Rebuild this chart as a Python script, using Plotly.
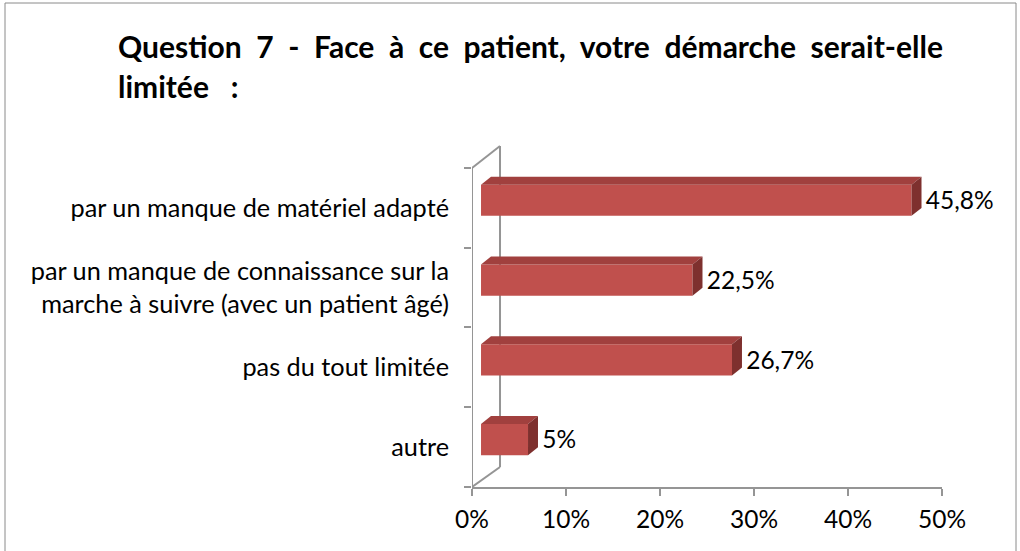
import plotly.graph_objects as go

# data
categories = [
    "par un manque de matériel adapté",
    "par un manque de connaissance sur la<br>marche à suivre (avec un patient âgé)",
    "pas du tout limitée",
    "autre",
]
values = [45.8, 22.5, 26.7, 5]
value_labels = ["45,8%", "22,5%", "26,7%", "5%"]
x_ticks = [0, 10, 20, 30, 40, 50]
x_tick_labels = ["0%", "10%", "20%", "30%", "40%", "50%"]

FONT = "Lato, Calibri, Carlito, sans-serif"
FS = 24.5
RED = "#C0504D"
RED_TOP = "#A1403E"
RED_SIDE = "#7E302E"
GRAY = "#959595"

# 3d look (in axis units)
shift_x, shift_y = 0.96, -0.094     # bars sit a bit inside the box
depth_x, depth_y = 1.06, -0.10      # top/side face depth
half_h = 0.195
wall_x, wall_top, wall_bot = 2.98, -0.775, 3.25

pos = list(range(len(categories)))

fig = go.Figure()

# front faces
fig.add_trace(go.Bar(
    y=[p + shift_y for p in pos], x=values, base=shift_x,
    orientation="h", width=2 * half_h,
    marker=dict(color=RED, line=dict(width=0)),
    hoverinfo="skip", showlegend=False,
))

# top and side faces
for p, v in zip(pos, values):
    x0 = shift_x
    x1 = shift_x + v
    yt = p + shift_y - half_h
    yb = p + shift_y + half_h
    fig.add_trace(go.Scatter(
        x=[x0, x1, x1 + depth_x, x0 + depth_x, x0],
        y=[yt, yt, yt + depth_y, yt + depth_y, yt],
        fill="toself", fillcolor=RED_TOP, mode="lines",
        line=dict(width=0), hoverinfo="skip", showlegend=False,
    ))
    fig.add_trace(go.Scatter(
        x=[x1, x1 + depth_x, x1 + depth_x, x1, x1],
        y=[yt, yt + depth_y, yb + depth_y, yb, yt],
        fill="toself", fillcolor=RED_SIDE, mode="lines",
        line=dict(width=0), hoverinfo="skip", showlegend=False,
    ))

# value labels
fig.add_trace(go.Scatter(
    x=[v + shift_x + depth_x + 0.45 for v in values],
    y=[p - 0.06 for p in pos],
    mode="text", text=value_labels, textposition="middle right",
    textfont=dict(family=FONT, size=FS, color="#000000"),
    cliponaxis=False, hoverinfo="skip", showlegend=False,
))

# box walls (front edge, back edge, diagonals)
wall_lines = [
    (0, -0.5, 0, 3.5),
    (wall_x, wall_top, wall_x, wall_bot),
    (0, -0.5, wall_x, wall_top),
    (0, 3.5, wall_x, wall_bot),
]
shapes = [
    dict(type="line", xref="x", yref="y", x0=a, y0=b, x1=c, y1=d,
         line=dict(color=GRAY, width=2), layer="below")
    for a, b, c, d in wall_lines
]

# outer frame of the chart
W, H = 1020, 551
L, R, T, B = 472, 78, 140, 64
pw, ph = W - L - R, H - T - B
def px(x):
    return (x - L) / pw
def py(y):
    return (H - B - y) / ph
shapes.append(dict(type="rect", xref="paper", yref="paper",
                   x0=px(5), x1=px(1016), y0=py(3), y1=py(600),
                   line=dict(color="#8a8a8a", width=1), layer="below"))

title_words = ["Question", "7", "-", "Face", "à", "ce", "patient,", "votre",
               "démarche", "serait-elle"]
gap = "\u00a0\u00a0"
title_line1 = gap.join(title_words)

fig.update_layout(
    width=W, height=H,
    margin=dict(l=L, r=R, t=T, b=B),
    paper_bgcolor="white", plot_bgcolor="white",
    font=dict(family=FONT, size=FS, color="#000000"),
    shapes=shapes,
    showlegend=False,
)
fig.add_annotation(
    text="<b>" + title_line1 + "</b>", xref="paper", yref="paper",
    x=px(116), y=py(66), xanchor="left", yanchor="bottom", showarrow=False,
    font=dict(family=FONT, size=30, color="#000000"),
)
fig.add_annotation(
    text="<b>limitée\u00a0\u00a0\u00a0:</b>", xref="paper", yref="paper",
    x=px(116), y=py(106), xanchor="left", yanchor="bottom", showarrow=False,
    font=dict(family=FONT, size=30, color="#000000"),
)

fig.update_xaxes(
    range=[0, 50], tickvals=x_ticks, ticktext=x_tick_labels,
    ticks="outside", ticklen=7, tickwidth=2, tickcolor=GRAY,
    showline=True, linecolor=GRAY, linewidth=2,
    showgrid=False, zeroline=False, fixedrange=True,
    ticklabelstandoff=3,
    tickfont=dict(family=FONT, size=FS),
)
fig.update_yaxes(
    range=[3.5, -0.85], tickvals=pos, ticktext=categories,
    ticks="", showline=False, showgrid=False, zeroline=False,
    ticklabelstandoff=22,
    minor=dict(tickvals=[-0.5, 0.5, 1.5, 2.5, 3.5], ticks="outside",
               ticklen=7, tickwidth=2, tickcolor=GRAY, showgrid=False),
    tickfont=dict(family=FONT, size=25.3),
    fixedrange=True,
)

fig.write_html("out.html", config={"displayModeBar": False},
               post_script="document.body.style.margin='0px';")
